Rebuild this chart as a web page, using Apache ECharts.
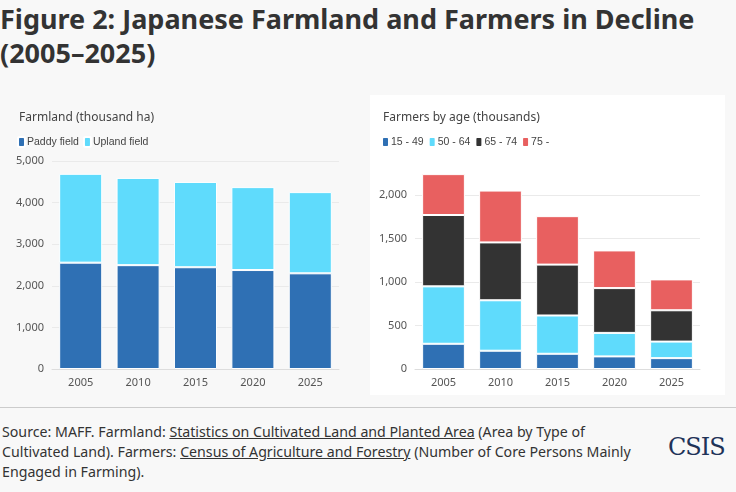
<!DOCTYPE html>
<html><head><meta charset="utf-8">
<script src="https://cdn.jsdelivr.net/npm/echarts@6/dist/echarts.min.js"></script>
<style>
body{margin:0;width:736px;height:492px;background:#f8f8f8;font-family:"Noto Sans",sans-serif;position:relative;overflow:hidden}
#t{position:absolute;left:0;top:2px;font-weight:700;font-size:27px;line-height:34px;color:#333}
#card{position:absolute;left:370px;top:95px;width:355px;height:300px;background:#fff}
#c{position:absolute;left:0;top:95px;width:736px;height:305px}
#hr{position:absolute;left:0;top:407px;width:736px;border-top:1px solid #ccc}
#s{position:absolute;left:2px;top:422px;width:640px;font-size:14.2px;line-height:20px;color:#333}
#s u{text-decoration:underline}
#logo{position:absolute;left:668px;top:433px;font-family:"DejaVu Serif",serif;font-size:24px;color:#1f3358;letter-spacing:-1px}
</style></head><body>
<div id="t">Figure 2: Japanese Farmland and Farmers in Decline<br>(2005–2025)</div>
<div id="card"></div>
<div id="c"></div>
<div id="hr"></div>
<div id="s">Source: MAFF. Farmland: <u>Statistics on Cultivated Land and Planted Area</u> (Area by Type of Cultivated Land). Farmers: <u>Census of Agriculture and Forestry</u> (Number of Core Persons Mainly Engaged in Farming).</div>
<div id="logo">CSIS</div>
<script>
const years=['2005','2010','2015','2020','2025'];
const paddy=[2556,2496,2446,2379,2300];
const upland=[2136,2097,2050,1993,1952];
const age15_49=[290,210,175,145,125];
const age50_64=[660,580,440,270,190];
const age65_74=[820,665,585,515,360];
const age75=[470,596,557,433,355];
const ch=echarts.init(document.getElementById('c'));
const axL={color:'#555',fontSize:11,fontFamily:'Noto Sans'};
const fmt=v=>v.toLocaleString('en-US');
const bar=(name,data,color,xi)=>({type:'bar',name,data,stack:'s'+xi,xAxisIndex:xi,yAxisIndex:xi,barWidth:'75%',itemStyle:{color,borderColor:'#fff',borderWidth:1}});
ch.setOption({
 animation:false,
 title:[{text:'Farmland (thousand ha)',left:14,top:12,textStyle:{fontSize:12,fontWeight:'normal',color:'#444',fontFamily:'Noto Sans'}},
        {text:'Farmers by age (thousands)',left:378,top:12,textStyle:{fontSize:12,fontWeight:'normal',color:'#444',fontFamily:'Noto Sans'}}],
 legend:[{data:['Paddy field','Upland field'],left:12,top:36,itemWidth:7,itemHeight:10,itemGap:4,textStyle:{fontSize:10.5,color:'#444',padding:[0,0,0,-3]}},
         {data:['15 - 49','50 - 64','65 - 74','75 -'],left:376,top:36,itemWidth:7,itemHeight:10,itemGap:4,textStyle:{fontSize:10.5,color:'#444',padding:[0,0,0,-3]}}],
 grid:[{left:52,top:66,width:287,height:208},{left:415,top:56.5,width:285,height:217.5}],
 xAxis:[0,1].map(i=>({type:'category',data:years,gridIndex:i,axisTick:{show:false},axisLine:{lineStyle:{color:'#ddd'}},axisLabel:Object.assign({margin:8},axL)})),
 yAxis:[{type:'value',gridIndex:0,min:0,max:5000,interval:1000,axisLabel:Object.assign({formatter:fmt},axL),splitLine:{lineStyle:{color:'#eaeaea'}}},
        {type:'value',gridIndex:1,min:0,max:2500,interval:500,axisLabel:Object.assign({formatter:v=>v>2000?'':fmt(v)},axL),splitLine:{lineStyle:{color:['#eaeaea','#eaeaea','#eaeaea','#eaeaea','#eaeaea','#fff']}}}],
 series:[bar('Paddy field',paddy,'#2f70b4',0),bar('Upland field',upland,'#5fdbfc',0),
   bar('15 - 49',age15_49,'#2f70b4',1),bar('50 - 64',age50_64,'#5fdbfc',1),bar('65 - 74',age65_74,'#333333',1),bar('75 -',age75,'#e86060',1)]
});
</script></body></html>
